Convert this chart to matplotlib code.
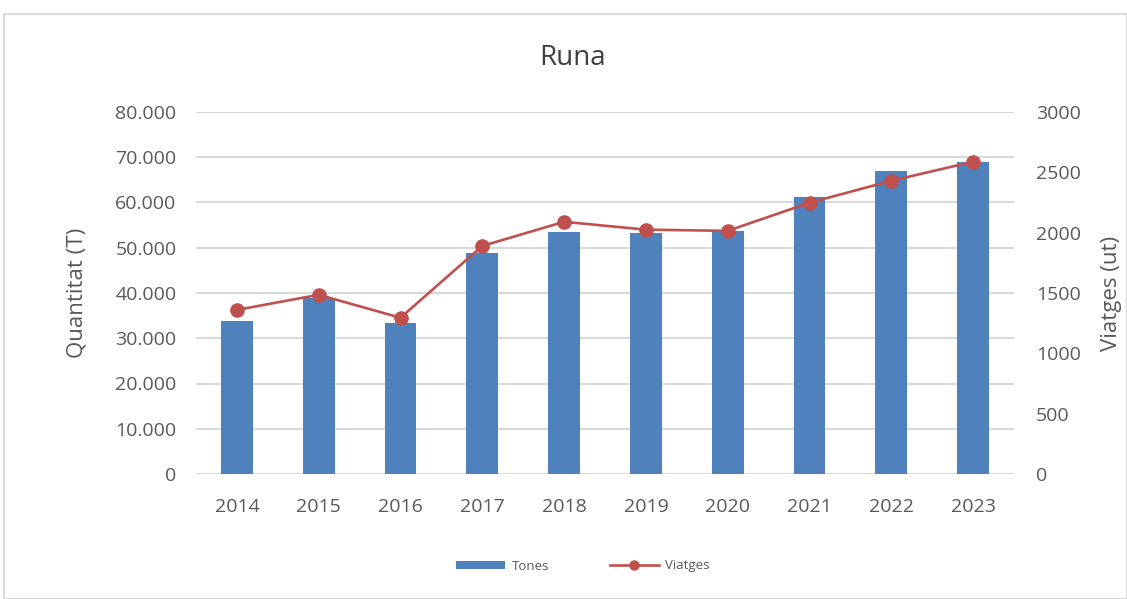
import matplotlib
matplotlib.use("Agg")
import matplotlib.pyplot as plt
from matplotlib.patches import Rectangle
from matplotlib.ticker import FuncFormatter
import numpy as np

years = ["2014", "2015", "2016", "2017", "2018", "2019", "2020", "2021", "2022", "2023"]
tones = [33900, 38800, 33400, 48900, 53400, 53200, 53700, 61200, 67000, 68900]
viatges = [1360, 1485, 1295, 1890, 2090, 2025, 2015, 2248, 2430, 2588]

plt.rcParams['font.family'] = ['Open Sans', 'DejaVu Sans']
grey = '#595959'

fig = plt.figure(figsize=(11.27, 5.99), dpi=100)
fig.patches.append(Rectangle((4/1127, 0), 1 - 4/1127, 1 - 14/599, transform=fig.transFigure,
                             fill=False, edgecolor='#d9d9d9', linewidth=1.5))

ax = fig.add_axes([196/1127, (599-474)/599, (1014-196)/1127, (474-112)/599])
x = np.arange(len(years))
ax.bar(x, tones, width=0.39, color='#4f81bd', label='Tones', zorder=2)
ax.set_ylim(0, 80000)
ax.set_xlim(-0.5, len(years) - 0.5)
ax.set_yticks(np.arange(0, 80001, 10000))
ax.yaxis.set_major_formatter(FuncFormatter(lambda v, p: '0' if v == 0 else f"{int(v):,}".replace(',', '.')))
ax.set_xticks(x)
ax.set_xticklabels(years)
ax.grid(axis='y', color='#d9d9d9', linewidth=1.5, zorder=0)
ax.set_axisbelow(True)
for s in ax.spines.values():
    s.set_visible(False)
ax.tick_params(length=0, labelsize=14, colors=grey, pad=14)
ax.tick_params(axis='x', pad=17)
ax.set_ylabel('Quantitat (T)', fontsize=16, color=grey, labelpad=20)

ax2 = ax.twinx()
ax2.plot(x, viatges, color='#c0504d', linewidth=1.9, marker='o', markersize=9.5, label='Viatges', zorder=3)
ax2.set_ylim(0, 3000)
ax2.set_yticks(np.arange(0, 3001, 500))
for s in ax2.spines.values():
    s.set_visible(False)
ax2.tick_params(length=0, labelsize=14, colors=grey, pad=16)
ax2.set_ylabel('Viatges (ut)', fontsize=16, color=grey, labelpad=14)

fig.text(573/1127, 1 - 58/599, 'Runa', ha='center', va='center', fontsize=20, color='#404040')

h1, l1 = ax.get_legend_handles_labels()
h2, l2 = ax2.get_legend_handles_labels()
leg = fig.legend(h1 + h2, l1 + l2, loc='center', bbox_to_anchor=(583/1127, 1 - 566/599), ncol=2,
                 frameon=False, fontsize=9.5, labelcolor=grey, handlelength=3.7, columnspacing=4.6,
                 handleheight=0.55, handletextpad=0.5)
for lh in leg.legend_handles:
    if hasattr(lh, 'set_markersize'):
        lh.set_markersize(6.5)

fig.savefig('out.png', dpi=100)
